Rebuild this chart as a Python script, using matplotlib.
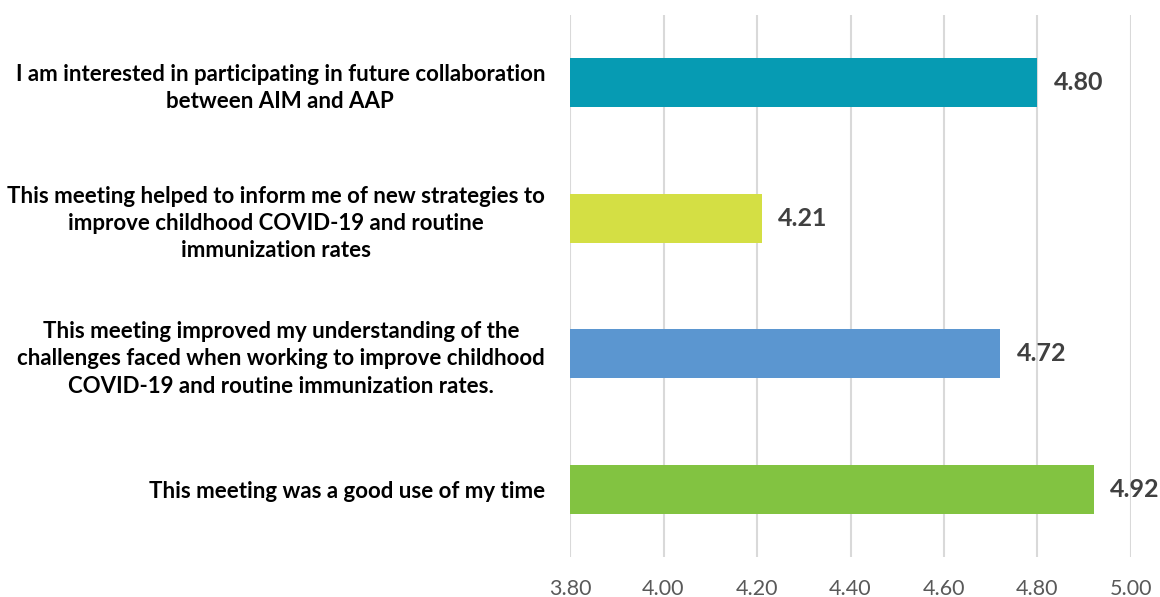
import numpy as np
import matplotlib
matplotlib.use('Agg')
from matplotlib import pyplot as plt

# statements, listed top to bottom as in the chart
statements = [
    'I am interested in participating in future collaboration\nbetween AIM and AAP',
    'This meeting helped to inform me of new strategies to\nimprove childhood COVID-19 and routine\nimmunization rates',
    'This meeting improved my understanding of the\nchallenges faced when working to improve childhood\nCOVID-19 and routine immunization rates.',
    'This meeting was a good use of my time',
]
scores = [4.80, 4.21, 4.72, 4.92]
bar_colors = ['#069BB3', '#D4DF44', '#5B96D0', '#82C341']
ticks = [3.80, 4.00, 4.20, 4.40, 4.60, 4.80, 5.00]

plt.rcParams['font.family'] = ['Lato', 'DejaVu Sans']

fig = plt.figure(figsize=(11.6, 5.97), dpi=100)
ax = fig.add_axes([570/1160, 1 - 557/597, (1131 - 570)/1160, (557 - 15)/597])

pos = np.arange(len(statements))
ax.barh(pos, scores, height=0.36, color=bar_colors, left=0, zorder=3)
ax.set_xlim(3.80, 5.00)
ax.set_ylim(-0.5, len(statements) - 0.5)
ax.invert_yaxis()

for y, v in zip(pos, scores):
    ax.annotate('%.2f' % v, (v, y), xytext=(12, 0), textcoords='offset points',
                ha='left', va='center', fontsize=18, fontweight='bold',
                color='#404040', annotation_clip=False)

ax.set_xticks(ticks)
ax.set_xticklabels(['%.2f' % t for t in ticks], fontsize=15.5, color='#595959')
ax.set_yticks(pos)
ax.set_yticklabels(statements, fontsize=16, fontweight='bold', color='black',
                   multialignment='center', linespacing=1.38)
ax.tick_params(axis='y', length=0, pad=18)
ax.tick_params(axis='x', length=0, pad=16)
ax.grid(axis='x', color='#D9D9D9', linewidth=1.5, zorder=0)
for s in ax.spines.values():
    s.set_visible(False)

fig.savefig('out.png', dpi=100)
